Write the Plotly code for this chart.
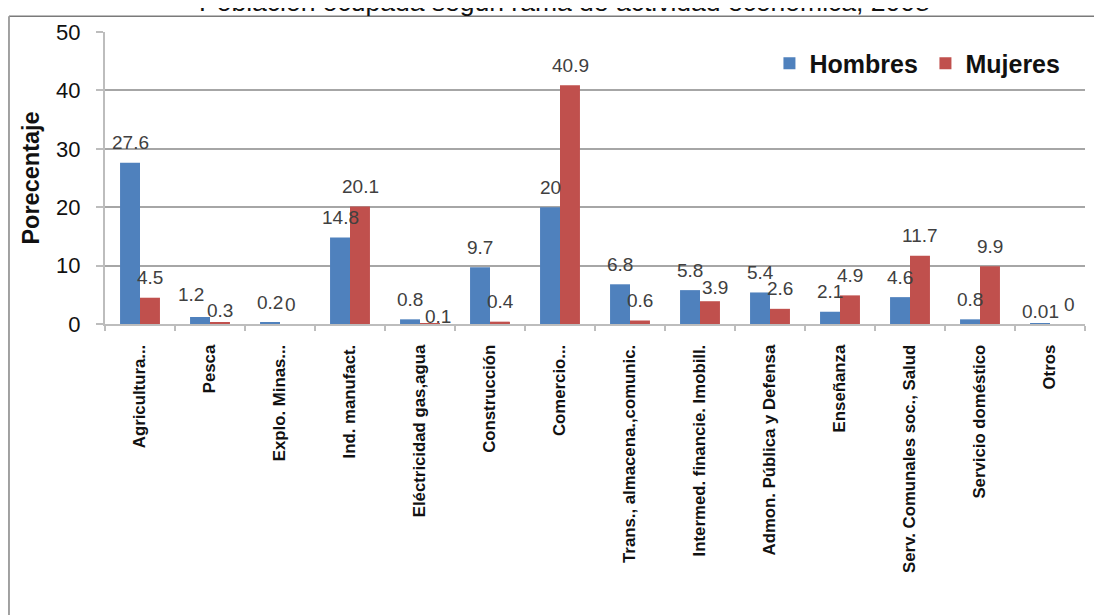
import plotly.graph_objects as go

categories = [
    "Agricultura...", "Pesca", "Explo. Minas...", "Ind. manufact.",
    "Eléctricidad gas,agua", "Construcción", "Comercio...",
    "Trans., almacena.,comunic.", "Intermed. financie. Imobill.",
    "Admon. Pública y Defensa", "Enseñanza", "Serv. Comunales soc., Salud",
    "Servicio doméstico", "Otros",
]
hombres = [27.6, 1.2, 0.2, 14.8, 0.8, 9.7, 20, 6.8, 5.8, 5.4, 2.1, 4.6, 0.8, 0.01]
mujeres = [4.5, 0.3, 0, 20.1, 0.1, 0.4, 40.9, 0.6, 3.9, 2.6, 4.9, 11.7, 9.9, 0]
y_ticks = [0, 10, 20, 30, 40, 50]

title_text = "Población ocupada según rama de actividad económica, 2008"

BLUE = "#4F81BD"
RED = "#C0504D"
GRID = "#a6a6a6"
AXIS = "#bdbdbd"
FONT = "Liberation Sans"

# label nudges (pixels) for a few labels that sit off the default spot
NUDGE = {
    (1, "H"): (-9, 2), (1, "M"): (0, -8),
    (4, "M"): (8, -13), (8, "M"): (5, -6),
    (13, "H"): (0, -8), (13, "M"): (9, 0),
}

fig = go.Figure()
fig.add_trace(go.Bar(name="Hombres", x=categories, y=hombres,
                     marker=dict(color=BLUE, line=dict(width=0))))
fig.add_trace(go.Bar(name="Mujeres", x=categories, y=mujeres,
                     marker=dict(color=RED, line=dict(width=0))))

annotations = []
for series, vals, dx0 in (("H", hombres, -10), ("M", mujeres, 10)):
    for i, (c, v) in enumerate(zip(categories, vals)):
        nx, ny = NUDGE.get((i, series), (0, 0))
        annotations.append(dict(
            x=c, y=v, xref="x", yref="y", text=f"{v:g}", showarrow=False,
            xshift=dx0 + nx, yshift=20 + ny, yanchor="middle", xanchor="center",
            font=dict(family=FONT, size=19, color="#404040"),
        ))

# title (partly cut off at the top edge, as in the original)
annotations.append(dict(
    text=title_text, xref="paper", yref="paper", x=(564 - 105) / 980,
    y=(324 + 1) / 295, xanchor="center", yanchor="middle", showarrow=False,
    font=dict(family=FONT, size=26.5, color="#111111"),
))

# frame lines of the original picture
shapes = [
    dict(type="line", xref="paper", yref="paper", x0=-0.098, x1=1.05,
         y0=1.0542, y1=1.0542, line=dict(color="#7a7a7a", width=1.5)),
    dict(type="line", xref="paper", yref="paper", x0=-0.098, x1=-0.098,
         y0=1.0542, y1=-1.1, line=dict(color="#a0a0a0", width=2)),
]

fig.update_layout(
    width=1102, height=615,
    margin=dict(l=97, r=25, t=22, b=299),
    paper_bgcolor="white", plot_bgcolor="white",
    barmode="group", bargap=0.43, bargroupgap=0,
    legend=dict(orientation="h", x=0.678, y=0.892, xanchor="left", yanchor="middle",
                font=dict(family=FONT, size=25, color="#111111", weight="bold"),
                bgcolor="rgba(0,0,0,0)", entrywidth=111, entrywidthmode="pixels"),
    annotations=annotations,
    shapes=shapes,
    showlegend=True,
)
fig.update_xaxes(
    type="category", tickson="boundaries", ticks="outside", ticklen=5,
    tickcolor=AXIS, tickwidth=1.5, showline=True, linecolor=AXIS, linewidth=2,
    tickangle=-90, tickfont=dict(family=FONT, size=16.8, color="#111111", weight="bold"),
    ticklabelstandoff=12, showgrid=False,
)
fig.update_yaxes(
    range=[0, 50], tickvals=y_ticks, ticks="outside", ticklen=7, tickcolor=AXIS,
    tickwidth=1.5, showline=True, linecolor=AXIS, linewidth=2,
    showgrid=True, gridcolor=GRID, gridwidth=1.5, zeroline=False,
    tickfont=dict(family=FONT, size=22, color="#111111"), ticklabelstandoff=11,
    title=dict(text="Porecentaje", standoff=10,
               font=dict(family=FONT, size=23.5, color="#111111", weight="bold")),
)

fig.write_html("out.html")
